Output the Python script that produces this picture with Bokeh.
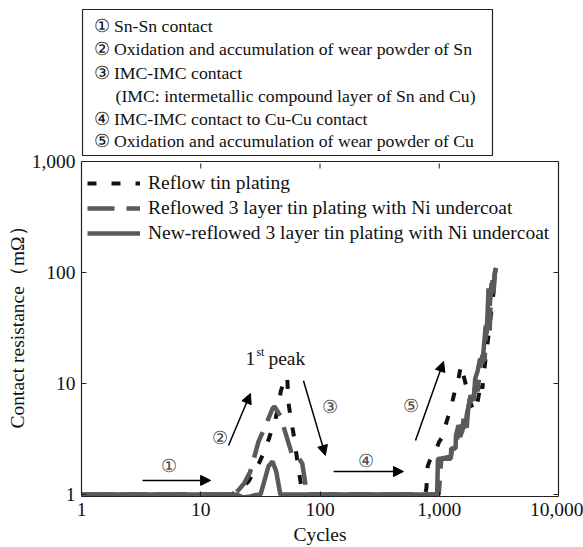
from bokeh.plotting import figure
from bokeh.models import (Range1d, FixedTicker, NumeralTickFormatter, LogAxis, LinearScale,
                          Arrow, NormalHead, Label, Span, Title)
from bokeh.core.properties import value
from bokeh.embed import file_html
from bokeh.resources import INLINE

FONT = "Liberation Serif"

# ---------------- data ----------------
box_lines = [
    "\u2460 Sn-Sn contact",
    "\u2461 Oxidation and accumulation of wear powder of Sn",
    "\u2462 IMC-IMC contact",
    "(IMC: intermetallic compound layer of Sn and Cu)",
    "\u2463 IMC-IMC contact to Cu-Cu contact",
    "\u2464 Oxidation and accumulation of wear powder of Cu",
]

x_ticks = [1, 10, 100, 1000, 10000]
y_ticks = [1, 10, 100, 1000]

reflow_cycles = [1, 15, 18, 20, 25, 30, 35, 38, 42, 45, 47, 50, 53, 54.5, 57, 60, 66, 71, 73,
                 760, 780, 800, 830, 875, 950, 1000, 1086, 1150, 1250, 1350, 1450, 1520, 1560,
                 1600, 1700, 1800, 1900, 2000, 2080, 2150, 2200, 2300, 2400, 2500, 2600, 2700,
                 2800, 2900, 2950]
reflow_res = [1, 1, 1.0, 1.05, 1.3, 1.8, 2.6, 3.4, 4.6, 6.5, 8.6, 10.5, 11.6, 6.6, 4.8, 3.5, 1.7, 1.05, 1.0,
              1.0, 1.13, 1.8, 2.0, 2.25, 2.6, 3.0, 3.4, 4.5, 6.0, 8.5, 11, 14.6, 13,
              11.8, 9, 7, 6, 5.6, 6.5, 8, 10.4, 9, 14, 20, 28, 40,
              55, 80, 108]

layer3_cycles = [1, 18, 20, 23, 26, 30.5, 35, 40, 41.5, 46.5, 53, 58.5, 62, 66, 71, 75, 77,
                 960, 990, 1040, 1250, 1300, 1380, 1450, 1500, 1600, 1650, 1700, 1830, 1900,
                 2000, 2100, 2200, 2300, 2400, 2450, 2500, 2600, 2650, 2700, 2800, 2850,
                 2900, 3000]
layer3_res = [1, 1, 1.05, 1.25, 1.6, 3.0, 4.2, 5.95, 6.2, 5.1, 3.2, 2.25, 2.1, 2.15, 1.9, 1.3, 1.0,
              1, 1.0, 2.1, 2.2, 2.7, 2.8, 3.6, 3.3, 4.2, 3.8, 5.2, 7.5, 6.5,
              9.5, 8.5, 14, 18, 16, 26, 33, 42, 30, 60, 85, 65,
              95, 110]

new_cycles = [1, 20, 22.8, 26, 29, 31.7, 34, 37, 40, 43, 46.5, 55, 960, 975, 1250, 1260,
              1370, 1380, 1450, 1550, 1600, 1700, 1750, 1830, 1950, 2000, 2100, 2200, 2300,
              2450, 2500, 2590, 2650, 2750, 2850, 2950]
new_res = [1, 1, 0.94, 0.96, 0.99, 1.0, 1.3, 1.8, 1.98, 1.6, 1.0, 1.0, 1, 2.1, 2.1, 2.6,
           2.6, 3.4, 4.2, 3.6, 4.8, 4.0, 6.0, 7.8, 7.0, 11, 13, 16.7, 15,
           33, 28, 72, 50, 80, 65, 108]

# ---------------- figure (frame extends to the top so the note box is drawn in it) ----
p = figure(width=583, height=547, x_axis_type="log", y_axis_type="log",
           x_range=Range1d(1, 10000), y_range=Range1d(10 ** (-2 / 111), 10 ** (490 / 111)),
           toolbar_location=None, output_backend="svg",
           min_border_left=81, min_border_right=25, min_border_top=4, min_border_bottom=51)
p.extra_x_ranges = {"px": Range1d(81, 558)}
p.extra_y_ranges = {"py": Range1d(496, 4)}
p.extra_x_scales = {"px": LinearScale()}
p.extra_y_scales = {"py": LinearScale()}
p.grid.visible = False
p.outline_line_color = None

p.line(reflow_cycles, reflow_res, line_color="#111111", line_width=4, line_dash="9 15",
       legend_label="Reflow tin plating")
p.line(layer3_cycles, layer3_res, line_color="#5a5a5a", line_width=4.5, line_dash="27 12",
       legend_label="Reflowed 3 layer tin plating with Ni undercoat")
p.line(new_cycles, new_res, line_color="#5a5a5a", line_width=4.5,
       legend_label="New-reflowed 3 layer tin plating with Ni undercoat")

for ax in (p.xaxis[0], p.yaxis[0]):
    ax.major_tick_in = 5
    ax.major_tick_out = 0
    ax.minor_tick_in = 0
    ax.minor_tick_out = 0
    ax.axis_line_color = "#222222"
    ax.axis_line_width = 1.2
    ax.major_tick_line_color = "#222222"
    ax.major_label_text_font = FONT
    ax.major_label_text_font_size = "19.5px"
    ax.major_label_text_color = "#111111"
    ax.axis_label_text_font = FONT
    ax.axis_label_text_font_size = "19.5px"
    ax.axis_label_text_font_style = "normal"
    ax.axis_label_text_color = "#111111"
    ax.formatter = NumeralTickFormatter(format="0,0")

p.xaxis.ticker = FixedTicker(ticks=x_ticks, minor_ticks=[])
p.yaxis.ticker = FixedTicker(ticks=y_ticks, minor_ticks=[])
p.yaxis.bounds = (1, 1000)
p.xaxis.axis_label = "Cycles"
p.xaxis.major_label_standoff = 6
p.yaxis.major_label_standoff = 6
p.xaxis.axis_label_standoff = 5

p.add_layout(Title(text="Contact resistance\uff08m\u03a9\uff09", align="left", offset=68,
                   standoff=2, text_font=FONT, text_font_size="19.5px",
                   text_font_style="normal", text_color="#111111"), "left")

rax = LogAxis(ticker=FixedTicker(ticks=y_ticks, minor_ticks=[]), bounds=(1, 1000),
              major_label_text_font_size="1px", major_label_text_alpha=0,
              major_label_standoff=0,
              major_tick_in=5, major_tick_out=0, minor_tick_in=0, minor_tick_out=0,
              axis_line_color="#222222", axis_line_width=1.2,
              major_tick_line_color="#222222")
p.add_layout(rax, "right")

# top edge of the plot box at 1,000 with inward ticks
p.add_layout(Span(location=1000, dimension="width", line_color="#222222", line_width=1.2))
p.segment(x0=x_ticks, x1=x_ticks, y0=163, y1=168, y_range_name="py",
          line_color="#222222", line_width=1)

lg = p.legend[0]
lg.location = (0, 245)
lg.margin = 0
lg.padding = 6
lg.spacing = 1
lg.glyph_width = 53
lg.glyph_height = 24
lg.label_height = 24
lg.label_standoff = 8
lg.border_line_alpha = 0
lg.background_fill_alpha = 0
lg.label_text_font = FONT
lg.label_text_font_size = "19.5px"
lg.label_text_color = "#111111"

# ---------------- note box ----------------
p.quad(left=[82], right=[492], top=[9], bottom=[155], x_range_name="px", y_range_name="py",
       fill_alpha=0, line_color="#222222", line_width=1.2)
box_x = [93, 93, 93, 115, 93, 93]
box_y = [25, 48, 72, 95, 118, 140]
p.text(x=box_x, y=box_y, text=box_lines, x_range_name="px", y_range_name="py",
       text_font=value(FONT), text_font_size="17.7px", text_baseline="middle",
       text_color="#111111")

# ---------------- arrows and stage marks ----------------
arrows = [
    (3.25, 1.34, 12.1, 1.34),
    (17.1, 2.76, 26.1, 8.13),
    (72.7, 10.6, 111, 2.25),
    (130, 1.61, 501, 1.61),
    (632, 3.07, 1086, 15.8),
]
for xs, ys, xe, ye in arrows:
    p.add_layout(Arrow(end=NormalHead(size=10, fill_color="black", line_color="black"),
                       x_start=xs, y_start=ys, x_end=xe, y_end=ye,
                       line_width=1.5, line_color="black"))

marks = [("\u2460", 5.37, 1.82), ("\u2461", 14.6, 3.2), ("\u2462", 122, 6.2),
         ("\u2463", 241, 2.02), ("\u2464", 574, 6.3)]
for t, x, y in marks:
    p.add_layout(Label(x=x, y=y, text=t, text_font=FONT, text_font_size="18px",
                       text_align="center", text_baseline="middle", text_color="#444444"))

p.add_layout(Label(x=23.7, y=16.8, text="1", text_font=FONT, text_font_size="19.5px",
                   text_baseline="middle", text_color="#111111"))
p.add_layout(Label(x=23.7, y=16.8, x_offset=11, y_offset=6, text="st", text_font=FONT,
                   text_font_size="12px", text_baseline="middle", text_color="#111111"))
p.add_layout(Label(x=23.7, y=16.8, x_offset=23, text="peak", text_font=FONT,
                   text_font_size="19.5px", text_baseline="middle", text_color="#111111"))

open("out.html", "w").write(file_html(p, INLINE))
